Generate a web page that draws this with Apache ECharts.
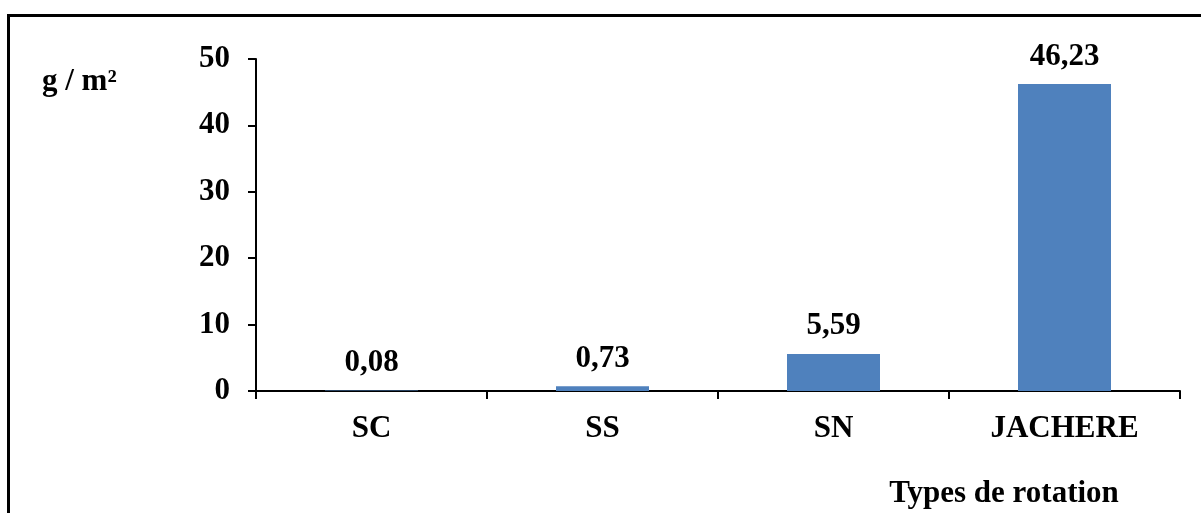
<!DOCTYPE html>
<html><head><meta charset="utf-8">
<script src="https://cdn.jsdelivr.net/npm/echarts@6/dist/echarts.min.js"></script>
<style>html,body{margin:0;padding:0;background:#fff}#c{width:1201px;height:513px}</style>
</head><body><div id="c"></div>
<script>
const categories = ["SC", "SS", "SN", "JACHERE"];
const values = [0.08, 0.73, 5.59, 46.23];
const yTicks = [0, 10, 20, 30, 40, 50];
const yUnit = "g / m²";
const xTitle = "Types de rotation";

const font = "'Liberation Serif', 'Times New Roman', serif";
const fs = 31;
const chart = echarts.init(document.getElementById('c'), null, {renderer: 'canvas'});
chart.setOption({
  animation: false,
  backgroundColor: '#fff',
  grid: {left: 256, right: 21, top: 59, bottom: 122, containLabel: false},
  graphic: [
    {type: 'rect', shape: {x: 8.5, y: 15.5, width: 1300, height: 600},
     style: {fill: 'none', stroke: '#000', lineWidth: 3}, z: 10},
    {type: 'text', x: 42, y: 82,
     style: {text: yUnit, font: "bold " + fs + "px " + font, fill: '#000', verticalAlign: 'middle'}},
    {type: 'text', x: 1004, y: 494,
     style: {text: xTitle, font: "bold " + fs + "px " + font, fill: '#000', align: 'center', verticalAlign: 'middle'}}
  ],
  xAxis: {
    type: 'category', data: categories,
    axisLine: {lineStyle: {color: '#000', width: 2}},
    axisTick: {show: true, length: 8, lineStyle: {color: '#000', width: 2}, alignWithLabel: false},
    axisLabel: {color: '#000', fontFamily: font, fontWeight: 'bold', fontSize: fs, margin: 22}
  },
  yAxis: {
    type: 'value', min: yTicks[0], max: yTicks[yTicks.length - 1], interval: 10,
    axisLine: {show: true, lineStyle: {color: '#000', width: 2}},
    axisTick: {show: true, length: 8, lineStyle: {color: '#000', width: 2}},
    splitLine: {show: false},
    axisLabel: {color: '#000', fontFamily: font, fontWeight: 'bold', fontSize: fs, margin: 26}
  },
  series: [{
    type: 'bar', data: values, barWidth: 93,
    itemStyle: {color: '#4F81BD'},
    label: {show: true, position: 'top', distance: 12, color: '#000',
      fontFamily: font, fontWeight: 'bold', fontSize: fs,
      formatter: p => p.value.toFixed(2).replace('.', ',')}
  }]
});
</script></body></html>
